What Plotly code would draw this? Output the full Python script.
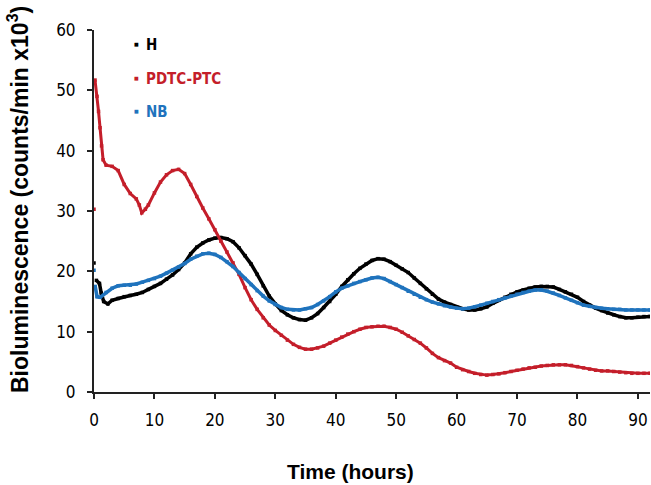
import plotly.graph_objects as go

# ---- data ----
t_pdtc = [0, 0.17, 0.5, 0.75, 1.0, 1.25, 1.5, 2, 3, 4, 5, 6, 7, 7.5, 7.9, 8.5, 9,
          10, 11, 12, 13, 14, 15, 16, 17, 18, 19, 20, 21, 22, 23, 24, 25, 26, 27, 28, 29,
          30, 31, 32, 33, 34, 35, 36, 37, 38, 39, 40, 41, 42, 43, 44, 45, 46, 47, 48, 49,
          50, 51, 52, 53, 54, 55, 56, 57, 58, 59, 60, 61, 62, 63, 64, 65, 66, 67, 68, 69,
          70, 71, 72, 73, 74, 75, 76, 77, 78, 79, 80, 81, 82, 83, 84, 85, 86, 87, 88, 89,
          90, 91, 92]
v_pdtc = [30.3, 51.7, 49.0, 46.5, 43.8, 40.8, 38.5, 37.6, 37.4, 36.7, 34.4, 32.9, 32.0, 31.0, 29.7, 30.3, 31.0,
          33.0, 34.8, 36.0, 36.7, 36.9, 36.2, 34.4, 32.4, 30.5, 28.7, 26.9, 25.0, 23.2, 21.4, 19.5, 17.3, 15.3, 13.7, 12.3, 11.1,
          10.2, 9.4, 8.6, 7.9, 7.4, 7.1, 7.1, 7.3, 7.6, 8.1, 8.6, 9.1, 9.6, 10.0, 10.4, 10.7, 10.8, 10.9, 10.9, 10.7,
          10.4, 9.9, 9.3, 8.7, 8.1, 7.3, 6.4, 5.7, 5.2, 4.8, 4.1, 3.7, 3.4, 3.1, 2.9, 2.8, 2.9, 3.0, 3.2, 3.4,
          3.6, 3.8, 4.0, 4.1, 4.3, 4.4, 4.5, 4.5, 4.5, 4.4, 4.2, 4.0, 3.8, 3.6, 3.5, 3.5, 3.4, 3.3, 3.2, 3.1,
          3.1, 3.1, 3.1]

t_h = [0, 0.4, 0.9, 1.2, 1.6, 2.3, 3, 4, 5, 6, 7, 8, 9,
       10, 11, 12, 13, 14, 15, 16, 17, 18, 19, 20, 21, 22, 23, 24, 25, 26, 27, 28, 29,
       30, 31, 32, 33, 34, 35, 36, 37, 38, 39, 40, 41, 42, 43, 44, 45, 46, 47, 48, 49,
       50, 51, 52, 53, 54, 55, 56, 57, 58, 59, 60, 61, 62, 63, 64, 65, 66, 67, 68, 69,
       70, 71, 72, 73, 74, 75, 76, 77, 78, 79, 80, 81, 82, 83, 84, 85, 86, 87, 88, 89,
       90, 91, 92]
v_h = [21.4, 18.5, 18.0, 16.4, 15.0, 14.6, 15.2, 15.5, 15.8, 16.0, 16.2, 16.5, 17.0,
       17.5, 18.0, 18.7, 19.4, 20.3, 21.4, 22.9, 24.0, 24.7, 25.2, 25.5, 25.6, 25.4, 24.9, 23.9, 22.6, 21.2, 19.5, 17.6, 15.9,
       14.6, 13.5, 12.8, 12.3, 12.0, 11.9, 12.3, 13.0, 14.0, 15.0, 16.2, 17.5, 18.6, 19.6, 20.5, 21.2, 21.8, 22.1, 22.0, 21.6,
       21.0, 20.4, 19.8, 18.9, 18.0, 17.1, 16.2, 15.4, 14.9, 14.5, 14.1, 13.8, 13.6, 13.6, 13.8, 14.1, 14.7, 15.2, 15.7, 16.2,
       16.6, 16.9, 17.2, 17.4, 17.5, 17.5, 17.4, 17.0, 16.6, 16.2, 15.7, 15.0, 14.4, 13.9, 13.5, 13.1, 12.8, 12.5, 12.3, 12.3,
       12.4, 12.5, 12.5]

t_nb = [0, 0.2, 0.5, 1, 2, 3, 4, 5, 6, 7, 8, 9,
        10, 11, 12, 13, 14, 15, 16, 17, 18, 19, 20, 21, 22, 23, 24, 25, 26, 27, 28, 29,
        30, 31, 32, 33, 34, 35, 36, 37, 38, 39, 40, 41, 42, 43, 44, 45, 46, 47, 48, 49,
        50, 51, 52, 53, 54, 55, 56, 57, 58, 59, 60, 61, 62, 63, 64, 65, 66, 67, 68, 69,
        70, 71, 72, 73, 74, 75, 76, 77, 78, 79, 80, 81, 82, 83, 84, 85, 86, 87, 88, 89,
        90, 91, 92]
v_nb = [20.2, 17.5, 15.8, 15.7, 16.5, 17.2, 17.6, 17.7, 17.7, 17.9, 18.2, 18.5,
        18.8, 19.2, 19.7, 20.2, 20.7, 21.3, 22.0, 22.5, 22.9, 23.0, 22.8, 22.3, 21.6, 20.8, 19.8, 18.8, 17.8, 16.8, 15.9, 15.1,
        14.5, 14.0, 13.7, 13.6, 13.6, 13.8, 14.0, 14.5, 15.1, 15.8, 16.6, 17.2, 17.6, 18.0, 18.3, 18.6, 18.9, 19.0, 18.8, 18.3,
        17.8, 17.3, 16.7, 16.2, 15.7, 15.3, 14.9, 14.6, 14.3, 14.1, 13.9, 13.8, 13.9, 14.1, 14.4, 14.7, 15.0, 15.3, 15.6, 15.9,
        16.2, 16.5, 16.7, 16.9, 16.9, 16.7, 16.4, 16.0, 15.6, 15.2, 14.8, 14.4, 14.2, 14.0, 13.9, 13.8, 13.7, 13.7, 13.6, 13.6,
        13.6, 13.6, 13.6]

x_ticks = [0, 10, 20, 30, 40, 50, 60, 70, 80, 90]
y_ticks = [0, 10, 20, 30, 40, 50, 60]

series = [
    ("H", t_h, v_h, "#000000", 3.5),
    ("PDTC-PTC", t_pdtc, v_pdtc, "#c41e2a", 3),
    ("NB", t_nb, v_nb, "#1f73bd", 3.5),
]

TICK_FONT = "DejaVu Sans Condensed, DejaVu Sans, sans-serif"
TITLE_FONT = "Liberation Sans, Arial, sans-serif"

L, T, W, H = 94, 30, 651, 485
PW, PH = W - L - 1, 362


def xp(x):  # pixel -> paper
    return (x - L) / PW


def yp(y):
    return (T + PH - y) / PH


fig = go.Figure()
for name, xs, ys, col, lw in series:
    # first sample is an isolated reading; the continuous trace starts at the second
    fig.add_trace(go.Scatter(x=xs[1:], y=ys[1:], name=name, mode="lines",
                             line=dict(color=col, width=lw), showlegend=False,
                             hoverinfo="skip"))
    fig.add_trace(go.Scatter(x=xs, y=ys, name=name, mode="markers",
                             marker=dict(color=col, size=3.5, symbol="square"),
                             showlegend=False))

# legend: small square dot + bold coloured label
leg_y = [45, 79, 112]
for (name, xs, ys, col, lw), yy in zip(series, leg_y):
    fig.add_annotation(xref="paper", yref="paper", x=xp(136), y=yp(yy - 1),
                       xanchor="center", yanchor="middle", showarrow=False,
                       text="■", font=dict(family="DejaVu Sans", size=5, color=col))
    fig.add_annotation(xref="paper", yref="paper", x=xp(144), y=yp(yy),
                       xanchor="left", yanchor="middle", showarrow=False,
                       text=f"<b>{name}</b>",
                       font=dict(family=TICK_FONT, size=15, color=col))

fig.add_annotation(xref="paper", yref="paper", x=xp(18), y=yp(200),
                   xanchor="center", yanchor="middle", showarrow=False, textangle=-90,
                   text="<b>Bioluminescence (counts/min x10<sup>3</sup>)</b>",
                   font=dict(family=TITLE_FONT, size=23, color="#000"))
fig.add_annotation(xref="paper", yref="paper", x=xp(350), y=yp(471),
                   xanchor="center", yanchor="middle", showarrow=False,
                   text="<b>Time (hours)</b>",
                   font=dict(family=TITLE_FONT, size=21, color="#000"))

axis_common = dict(showgrid=False, zeroline=False, showline=True, linecolor="#222",
                   linewidth=2, ticks="outside", tickcolor="#222", tickwidth=2, ticklen=5,
                   tickfont=dict(family=TICK_FONT, size=17, color="#000"))
fig.update_xaxes(range=[0, 92], tickvals=x_ticks, ticktext=[str(v) for v in x_ticks],
                 ticklabelstandoff=7, **axis_common)
fig.update_yaxes(range=[0, 60], tickvals=y_ticks, ticktext=[str(v) for v in y_ticks],
                 ticklabelstandoff=8, **axis_common)

fig.update_layout(width=W, height=H, margin=dict(l=L, r=1, t=T, b=H - T - PH),
                  paper_bgcolor="white", plot_bgcolor="white")

# remove the browser's default 8px page margin so the figure sits at the window origin
fig.write_html("out.html", config={"displayModeBar": False},
               post_script="document.body.style.margin='0px';")
